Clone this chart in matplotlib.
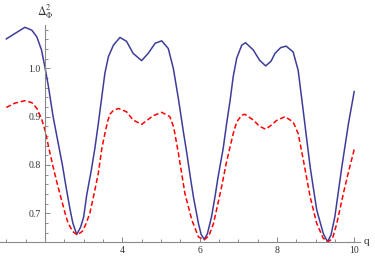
import matplotlib
matplotlib.use("Agg")
import matplotlib.pyplot as plt
from matplotlib.ticker import MultipleLocator, FixedLocator

# values
q_blue = [1.0, 1.22, 1.48, 1.66, 1.79, 1.91, 2.0, 2.09, 2.21, 2.33, 2.45, 2.55, 2.65, 2.72,
          2.82, 2.92, 3.0, 3.08, 3.2, 3.29, 3.38, 3.47, 3.55, 3.64, 3.77, 3.94, 4.11, 4.28,
          4.5, 4.67, 4.85, 5.02, 5.19, 5.32, 5.45, 5.58, 5.67, 5.76, 5.84, 5.97, 6.04, 6.12,
          6.2, 6.31, 6.4, 6.48, 6.61, 6.7, 6.79, 6.87, 6.96, 7.09, 7.19, 7.39, 7.55, 7.71,
          7.85, 7.95, 8.1, 8.24, 8.42, 8.55, 8.68, 8.86, 9.03, 9.2, 9.31, 9.4, 9.5, 9.68,
          9.85, 10.0]
blue = [1.061, 1.072, 1.085, 1.079, 1.065, 1.038, 1.002, 0.962, 0.900, 0.850, 0.800, 0.752,
        0.707, 0.680, 0.656, 0.671, 0.692, 0.738, 0.790, 0.834, 0.886, 0.941, 0.990, 1.024,
        1.048, 1.064, 1.056, 1.031, 1.016, 1.031, 1.052, 1.057, 1.041, 1.000, 0.938, 0.869,
        0.824, 0.775, 0.734, 0.679, 0.656, 0.646, 0.657, 0.693, 0.735, 0.776, 0.834, 0.886,
        0.934, 0.983, 1.021, 1.048, 1.053, 1.038, 1.017, 1.005, 1.015, 1.031, 1.043, 1.046,
        1.034, 0.996, 0.913, 0.796, 0.707, 0.658, 0.641, 0.655, 0.693, 0.796, 0.885, 0.952]

q_red = [1.0, 1.22, 1.48, 1.66, 1.79, 1.91, 2.0, 2.1, 2.21, 2.32, 2.43, 2.52, 2.6, 2.72,
         2.84, 2.97, 3.06, 3.16, 3.27, 3.38, 3.47, 3.55, 3.62, 3.68, 3.77, 3.9, 4.11, 4.28,
         4.5, 4.65, 4.8, 5.02, 5.23, 5.33, 5.45, 5.62, 5.8, 5.97, 6.12, 6.24, 6.36, 6.46,
         6.57, 6.68, 6.79, 6.87, 6.96, 7.09, 7.17, 7.39, 7.55, 7.71, 7.85, 7.99, 8.21, 8.42,
         8.55, 8.68, 8.86, 9.03, 9.2, 9.33, 9.44, 9.55, 9.72, 9.85, 10.0]
red = [0.919, 0.928, 0.933, 0.929, 0.917, 0.896, 0.872, 0.835, 0.796, 0.760, 0.727, 0.700,
       0.679, 0.662, 0.655, 0.663, 0.678, 0.700, 0.740, 0.783, 0.834, 0.865, 0.890, 0.905,
       0.913, 0.917, 0.910, 0.893, 0.884, 0.893, 0.902, 0.909, 0.900, 0.878, 0.825, 0.741,
       0.686, 0.651, 0.645, 0.653, 0.679, 0.715, 0.755, 0.800, 0.838, 0.865, 0.889, 0.903,
       0.905, 0.893, 0.880, 0.874, 0.882, 0.892, 0.900, 0.889, 0.865, 0.812, 0.734, 0.679,
       0.648, 0.641, 0.648, 0.679, 0.741, 0.785, 0.832]

x_ticks = [4, 6, 8, 10]
y_ticks = [0.7, 0.8, 0.9, 1.0]

plt.rcParams['mathtext.fontset'] = 'stix'
axis_grey = '#8a8a8a'

fig = plt.figure(figsize=(3.75, 2.58), dpi=100)
ax = fig.add_axes([0.0, 0.063, 0.96, 0.84])

ax.plot(q_blue, blue, color='#3d3d99', lw=1.1, solid_joinstyle='round')
ax.plot(q_red, red, color='#ff0000', lw=1.1, dashes=[3.3, 1.8])

ax.set_xlim(0.836, 10.15)
ax.set_ylim(0.641, 1.0897)

# Mathematica style axes crossing at q = 2
for s in ['top', 'right']:
    ax.spines[s].set_visible(False)
ax.spines['left'].set_position(('data', 2))
ax.spines['left'].set_color(axis_grey)
ax.spines['bottom'].set_color(axis_grey)
ax.spines['left'].set_linewidth(0.8)
ax.spines['bottom'].set_linewidth(0.8)

ax.xaxis.set_major_locator(FixedLocator(x_ticks))
ax.xaxis.set_minor_locator(MultipleLocator(0.5))
ax.yaxis.set_major_locator(FixedLocator(y_ticks))
ax.yaxis.set_minor_locator(MultipleLocator(0.02))
ax.set_xticklabels([str(t) for t in x_ticks])
ax.set_yticklabels(['%.1f' % t for t in y_ticks])

ax.tick_params(which='both', direction='in', color=axis_grey, width=0.7)
ax.tick_params(which='major', length=3.5)
ax.tick_params(which='minor', length=2)
ax.tick_params(axis='x', pad=3)
ax.tick_params(axis='y', pad=3)
for lab in ax.get_xticklabels() + ax.get_yticklabels():
    lab.set_fontfamily('Liberation Serif')
    lab.set_fontsize(7)
    lab.set_color('#333333')

ax.text(10.25, 0.641, 'q', fontsize=8, family='Liberation Serif', color='#333333',
        ha='left', va='center', clip_on=False)
ax.text(2, 1.098, r'$\Delta_{\Phi}^{2}$', fontsize=8.5, color='#333333',
        ha='center', va='bottom', clip_on=False)

fig.savefig('out.png', dpi=100)
